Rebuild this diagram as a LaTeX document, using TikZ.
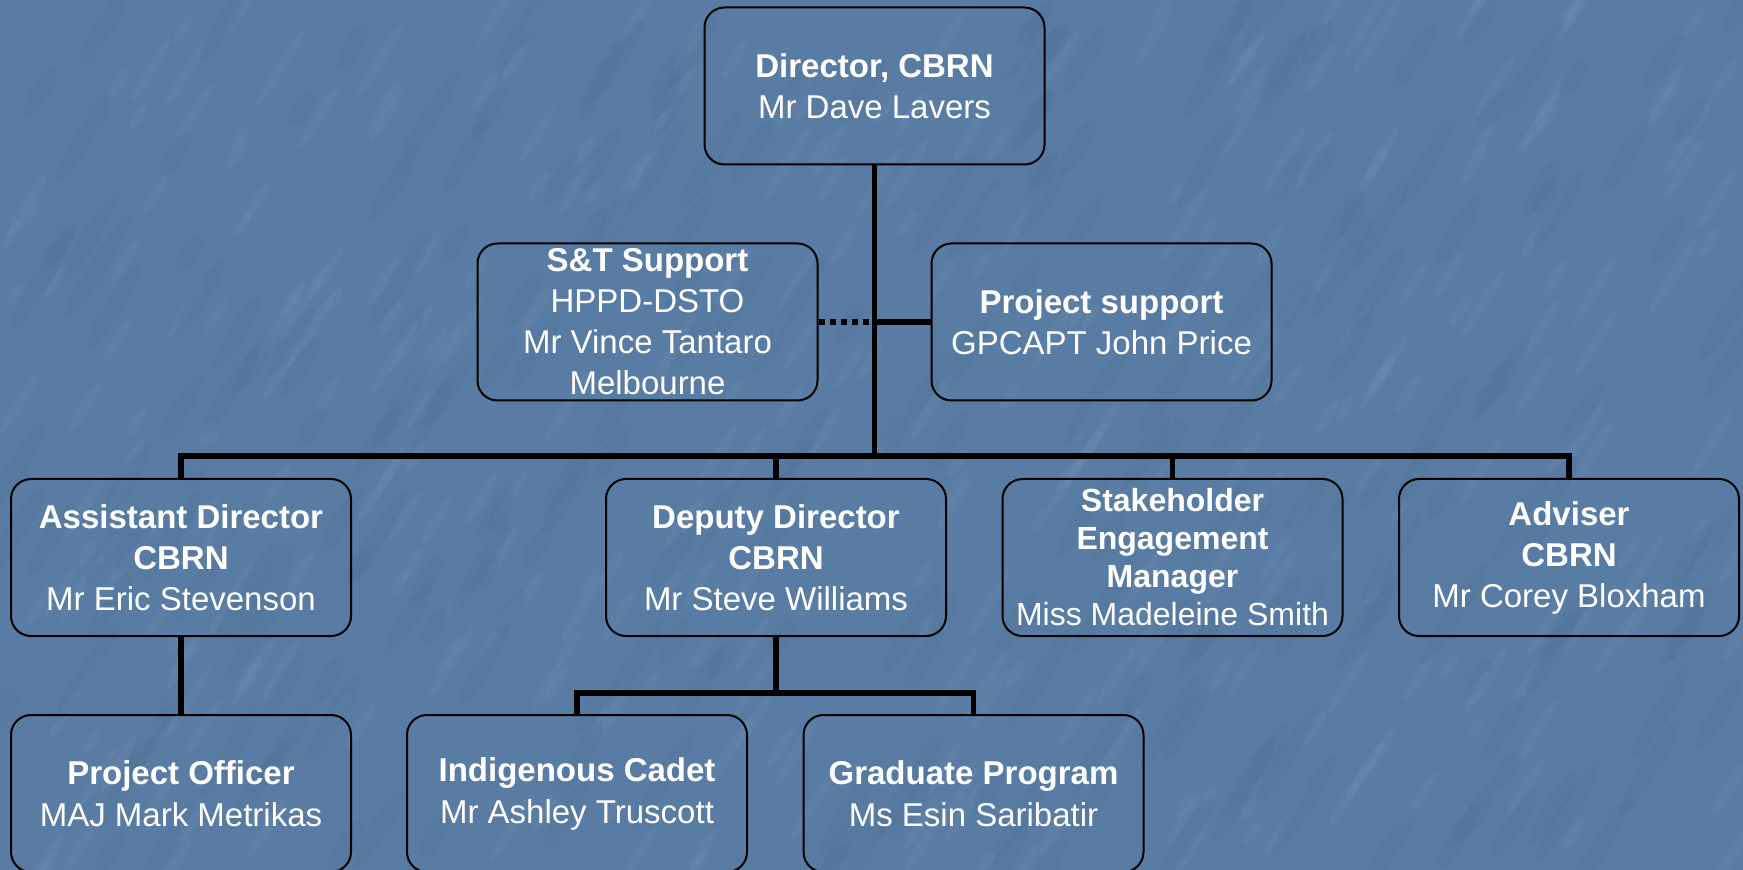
\documentclass[tikz,border=0pt]{standalone}
\usepackage{fontspec}
\setmainfont{Liberation Sans}
\definecolor{bgblue}{RGB}{89,124,164}
\tikzset{
  orgbox/.style={draw=black, line width=1pt, rounded corners=10pt,
    minimum width=170pt, minimum height=78.5pt, inner sep=0pt,
    align=center, text=white, font=\fontsize{16.5pt}{20.5pt}\selectfont},
  smallbox/.style={orgbox, font=\fontsize{16pt}{19pt}\selectfont},
  lowbox/.style={orgbox, font=\fontsize{16.5pt}{21pt}\selectfont},
  conn/.style={draw=black, line width=2.8pt},
  dotconn/.style={conn, dash pattern=on 3.3pt off 2.2pt}
}
\begin{document}
\begin{tikzpicture}[x=0.5pt,y=-0.5pt]
\fill[bgblue] (0,0) rectangle (1743,870);
\useasboundingbox (0,0) rectangle (1743,870);
% faint marbled texture
\pgfmathsetseed{11}
\foreach \i in {1,...,350}{
  \pgfmathsetmacro{\xx}{random(0,1743)}
  \pgfmathsetmacro{\yy}{random(0,870)}
  \pgfmathsetmacro{\ll}{random(12,45)}
  \fill[white, opacity=0.03, rotate around={58:(\xx,\yy)}] (\xx,\yy) ellipse [x radius=\ll, y radius=5];
}
\foreach \i in {1,...,250}{
  \pgfmathsetmacro{\xx}{random(0,1743)}
  \pgfmathsetmacro{\yy}{random(0,870)}
  \pgfmathsetmacro{\ll}{random(20,60)}
  \fill[black, opacity=0.025, rotate around={58:(\xx,\yy)}] (\xx,\yy) ellipse [x radius=\ll, y radius=9];
}

\node[orgbox] (dir) at (874.5,86) {\textbf{Director, CBRN}\\Mr Dave Lavers};
\node[orgbox] (st) at (647.5,322) {\textbf{S\&T Support}\\HPPD-DSTO\\Mr Vince Tantaro\\Melbourne};
\node[orgbox] (ps) at (1101.5,322) {\textbf{Project support}\\GPCAPT John Price};

\node[orgbox] (ad) at (181,557.5) {\textbf{Assistant Director}\\\textbf{CBRN}\\Mr Eric Stevenson};
\node[orgbox] (dd) at (776,557.5) {\textbf{Deputy Director}\\\textbf{CBRN}\\Mr Steve Williams};
\node[smallbox] (se) at (1172.5,557.5) {\textbf{Stakeholder}\\\textbf{Engagement}\\\textbf{Manager}\\Miss Madeleine Smith};
\node[orgbox] (adv) at (1569,557.5) {\textbf{Adviser}\\\textbf{CBRN}\\Mr Corey Bloxham};

\node[lowbox] (po) at (181,793.5) {\textbf{Project Officer}\\MAJ Mark Metrikas};
\node[lowbox] (ic) at (577,793.5) {\textbf{Indigenous Cadet}\\Mr Ashley Truscott};
\node[lowbox] (gp) at (973.5,793.5) {\textbf{Graduate Program}\\Ms Esin Saribatir};

\coordinate (mid) at (874.5,322);
\coordinate (bus) at (874.5,456);
\coordinate (sub) at (776,693);

\draw[conn] (dir.south) -- (bus);
\draw[conn] (mid) -- (ps.west);
\draw[dotconn] (st.east) -- (mid);
\draw[conn] (ad.north) |- (bus) -| (adv.north);
\draw[conn] (dd.north |- bus) -- (dd.north);
\draw[conn] (se.north |- bus) -- (se.north);
\draw[conn] (ad.south) -- (po.north);
\draw[conn] (dd.south) -- (sub);
\draw[conn] (ic.north) |- (sub) -| (gp.north);
\end{tikzpicture}
\end{document}
